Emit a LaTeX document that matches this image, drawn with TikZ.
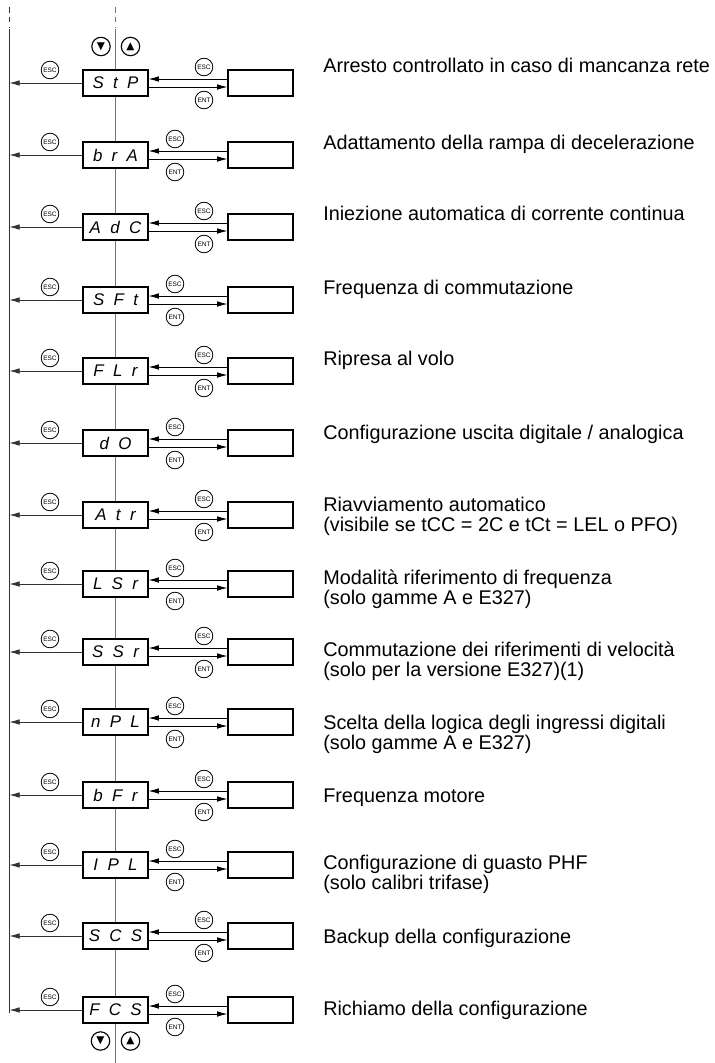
\documentclass[tikz,border=0pt]{standalone}
\usepackage{fontspec}
\setmainfont{Liberation Sans}
\newfontfamily\symfont{DejaVu Sans}
\newfontfamily\lcdfont[WordSpace=2.0]{Liberation Sans}
\usetikzlibrary{arrows.meta}

\tikzset{
  bus/.style={line width=0.7pt},
  display/.style={draw, fill=white, line width=0.8pt, minimum width=1.625cm, minimum height=0.65cm, inner sep=0pt,
    font=\lcdfont\itshape\fontsize{12}{12}\selectfont},
  param/.style={draw, fill=white, line width=0.8pt, minimum width=1.625cm, minimum height=0.65cm, inner sep=0pt},
  key/.style={circle, draw, line width=0.6pt, minimum size=0.44cm, inner sep=0pt, font=\fontsize{4.6}{5}\selectfont},
  arrowkey/.style={circle, draw, line width=0.8pt, minimum size=0.46cm, inner sep=0pt, font=\symfont\fontsize{7.5}{7.5}\selectfont},
  link/.style={line width=0.6pt, -{Latex[length=0.26cm, width=0.14cm]}},
  descr/.style={anchor=base west, align=left, inner sep=0pt, font=\fontsize{14.1}{14.2}\selectfont}
}

\begin{document}
\begin{tikzpicture}[x=0.25cm, y=-0.25cm]
  \useasboundingbox (0,0) rectangle (71.5,106.3);

  % Bus lines
  \coordinate (ldash) at (0.93,0.7);
  \coordinate (lgap) at (0.93,2.7);
  \coordinate (ltop) at (0.93,2.9);
  \coordinate (lend) at (0.93,101.3);
  \coordinate (cdash) at (11.5,0.7);
  \coordinate (cgap) at (11.5,2.7);
  \coordinate (ctop) at (11.5,2.9);
  \coordinate (cend) at (11.5,106.3);
  \draw[bus, black!80, dash pattern=on 4pt off 3pt] (ldash) -- (lgap);
  \draw[bus, black!55, dash pattern=on 4pt off 3pt] (cdash) -- (cgap);
  \draw[bus, black!80] (ltop) -- (lend);
  \draw[bus, black!55] (ctop) -- (cend);

  % Scroll keys
  \node[arrowkey] (dntop) at (10.1,4.65) {▼};
  \node[arrowkey] (uptop) at (13.05,4.65) {▲};
  \node[arrowkey] (dnbot) at (10.05,104.1) {▼};
  \node[arrowkey] (upbot) at (13.05,104.1) {▲};

  % Menu rows: index / box y / text baseline (last line) / display / description
  \foreach \i/\y/\ty/\lab/\txt in {
      0/8.3/7.2/{S t P}/{Arresto controllato in caso di mancanza rete},
      1/15.5/14.9/{b r A}/{Adattamento della rampa di decelerazione},
      2/22.7/22.0/{A d C}/{Iniezione automatica di corrente continua},
      3/30.0/29.4/{S F t}/{Frequenza di commutazione},
      4/37.1/36.5/{F L r}/{Ripresa al volo},
      5/44.3/43.9/{d O}/{Configurazione uscita digitale / analogica},
      6/51.5/53.1/{A t r}/{Riavviamento automatico\\(visibile se tCC = 2C e tCt = LEL o PFO)},
      7/58.4/60.4/{L S r}/{Modalità riferimento di frequenza\\(solo gamme A e E327)},
      8/65.2/67.6/{S S r}/{Commutazione dei riferimenti di velocità\\(solo per la versione E327)(1)},
      9/72.2/74.9/{n P L}/{Scelta della logica degli ingressi digitali\\(solo gamme A e E327)},
      10/79.5/80.2/{b F r}/{Frequenza motore},
      11/86.5/88.9/{I P L}/{Configurazione di guasto PHF\\(solo calibri trifase)},
      12/93.6/94.3/{S C S}/{Backup della configurazione},
      13/101.0/101.5/{F C S}/{Richiamo della configurazione}}{
    \pgfmathsetmacro\kx{mod(\i,2)==1 ? 17.5 : 20.4}
    \node[display] (d\i) at (11.55,\y) {\lab};
    \node[param] (p\i) at (26.05,\y) {};
    \node[key] (e\i) at (5.0,\y-1.3) {ESC};
    \node[key] (r\i) at (\kx,\y-1.6) {ESC};
    \node[key] (n\i) at (\kx,\y+1.7) {ENT};
    \draw[link, black!80] (d\i.west) -- (d\i.west -| lend);
    \draw[link] ([yshift=0.1cm]p\i.west) -- ([yshift=0.1cm]d\i.east);
    \draw[link] ([yshift=-0.1cm]d\i.east) -- ([yshift=-0.1cm]p\i.west);
    \node[descr] (t\i) at (32.3,\ty) {\txt};
  }
\end{tikzpicture}
\end{document}
